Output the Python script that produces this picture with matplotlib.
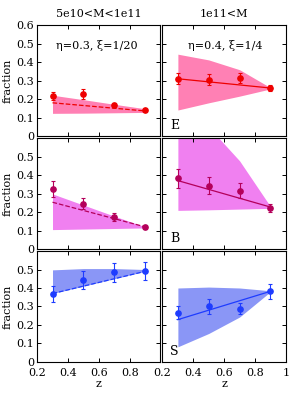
#!/usr/bin/env python3
"""Morphology fractions vs redshift, two mass bins (E / B / S rows)."""
import numpy as np
import matplotlib

matplotlib.use("Agg")
import matplotlib.pyplot as plt
from matplotlib.ticker import FuncFormatter

OUT = "out.png"

z = [0.3, 0.5, 0.7, 0.9]
z_fit = [0.3, 0.9]

col_titles = ["5e10<M<1e11", "1e11<M"]
col_notes = ["η=0.3, ξ=1/20", "η=0.4, ξ=1/4"]
row_letters = ["E", "B", "S"]

# E row
e_lo_frac = [0.216, 0.225, 0.168, 0.141]
e_lo_err = [0.022, 0.027, 0.012, 0.008]
e_lo_fit = [0.180, 0.136]
e_lo_band_hi = [0.221, 0.197, 0.172, 0.148]
e_lo_band_lo = [0.123, 0.124, 0.126, 0.128]

e_hi_frac = [0.311, 0.305, 0.314, 0.261]
e_hi_err = [0.030, 0.030, 0.025, 0.017]
e_hi_fit = [0.310, 0.260]
e_hi_band_hi = [0.443, 0.412, 0.359, 0.262]
e_hi_band_lo = [0.141, 0.180, 0.216, 0.255]

# B row
b_lo_frac = [0.325, 0.245, 0.173, 0.120]
b_lo_err = [0.043, 0.030, 0.020, 0.010]
b_lo_fit = [0.253, 0.120]
b_lo_band_hi = [0.298, 0.238, 0.178, 0.120]
b_lo_band_lo = [0.105, 0.108, 0.111, 0.114]

b_hi_frac = [0.382, 0.343, 0.316, 0.221]
b_hi_err = [0.050, 0.045, 0.040, 0.020]
b_hi_fit = [0.370, 0.227]
b_hi_band_hi = [0.90, 0.66, 0.477, 0.230]
b_hi_band_lo = [0.209, 0.212, 0.216, 0.220]

# S row
s_lo_frac = [0.368, 0.443, 0.484, 0.493]
s_lo_err = [0.045, 0.050, 0.050, 0.050]
s_lo_fit = [0.370, 0.490]
s_lo_band_hi = [0.498, 0.505, 0.505, 0.500]
s_lo_band_lo = [0.370, 0.410, 0.450, 0.490]

s_hi_frac = [0.266, 0.302, 0.287, 0.382]
s_hi_err = [0.035, 0.040, 0.030, 0.040]
s_hi_fit = [0.229, 0.382]
s_hi_band_hi = [0.400, 0.405, 0.400, 0.385]
s_hi_band_lo = [0.082, 0.154, 0.243, 0.380]

point_colors = ["#ee0000", "#b4005a", "#1e3cff"]
band_colors = ["#ff80b4", "#f080f0", "#8a96f6"]

plt.rcParams["font.family"] = ["DejaVu Serif"]
plt.rcParams["font.size"] = 8


def _fmt(v, pos):
    s = f"{v:.1f}"
    if s == "0.0":
        return "0"
    if s == "1.0":
        return "1"
    return s


def main() -> None:
    rows = [
        [(e_lo_frac, e_lo_err, e_lo_fit, e_lo_band_lo, e_lo_band_hi),
         (e_hi_frac, e_hi_err, e_hi_fit, e_hi_band_lo, e_hi_band_hi)],
        [(b_lo_frac, b_lo_err, b_lo_fit, b_lo_band_lo, b_lo_band_hi),
         (b_hi_frac, b_hi_err, b_hi_fit, b_hi_band_lo, b_hi_band_hi)],
        [(s_lo_frac, s_lo_err, s_lo_fit, s_lo_band_lo, s_lo_band_hi),
         (s_hi_frac, s_hi_err, s_hi_fit, s_hi_band_lo, s_hi_band_hi)],
    ]

    fig, axes = plt.subplots(3, 2, figsize=(2.92, 3.93), dpi=100)
    fig.subplots_adjust(left=0.127, right=0.979, top=0.936, bottom=0.079,
                        wspace=0.016, hspace=0.018)

    for i, row in enumerate(rows):
        for j, (frac, err, fit, blo, bhi) in enumerate(row):
            ax = axes[i, j]
            ax.fill_between(z, blo, bhi, color=band_colors[i], lw=0, zorder=1)
            ax.plot(z_fit, fit, color=point_colors[i], lw=0.9,
                    ls="--" if j == 0 else "-", zorder=2)
            ax.errorbar(z, frac, yerr=err, fmt="o", color=point_colors[i],
                        ms=3.8, elinewidth=0.8, capsize=1.3, capthick=0.8, zorder=3)

            ax.set_xlim(0.2, 1.0)
            ax.set_ylim(0, 0.6)
            ax.set_xticks([0.2, 0.4, 0.6, 0.8, 1.0])
            ax.set_yticks(np.arange(0, 0.61, 0.1))
            ax.tick_params(direction="in", top=True, right=True, length=3,
                           width=0.7, labelsize=8)
            ax.tick_params(axis="y", pad=2)
            ax.tick_params(axis="x", pad=4)
            for sp in ax.spines.values():
                sp.set_linewidth(0.8)
            ax.xaxis.set_major_formatter(FuncFormatter(_fmt))
            ax.yaxis.set_major_formatter(FuncFormatter(_fmt))

            if i < 2:
                ax.tick_params(labelbottom=False)
            if j == 1:
                ax.tick_params(labelleft=False)
                ax.text(0.06, 0.04, row_letters[i], transform=ax.transAxes,
                        fontsize=9, ha="left", va="bottom")
            else:
                ax.set_ylabel("fraction", fontsize=8, labelpad=3)
                if i > 0:
                    ax.yaxis.get_major_ticks()[-1].label1.set_visible(False)
            if i == 2:
                ax.set_xlabel("z", fontsize=8, labelpad=1)
                if j == 0:
                    ax.xaxis.get_major_ticks()[-1].label1.set_visible(False)
            if i == 0:
                ax.set_title(col_titles[j], fontsize=8, pad=6)
                ax.text(0.48 if j == 0 else 0.51, 0.82, col_notes[j],
                        transform=ax.transAxes, fontsize=8, ha="center", va="center")

    fig.savefig(OUT, dpi=100)
    print(f"wrote {OUT}")


if __name__ == "__main__":
    main()
